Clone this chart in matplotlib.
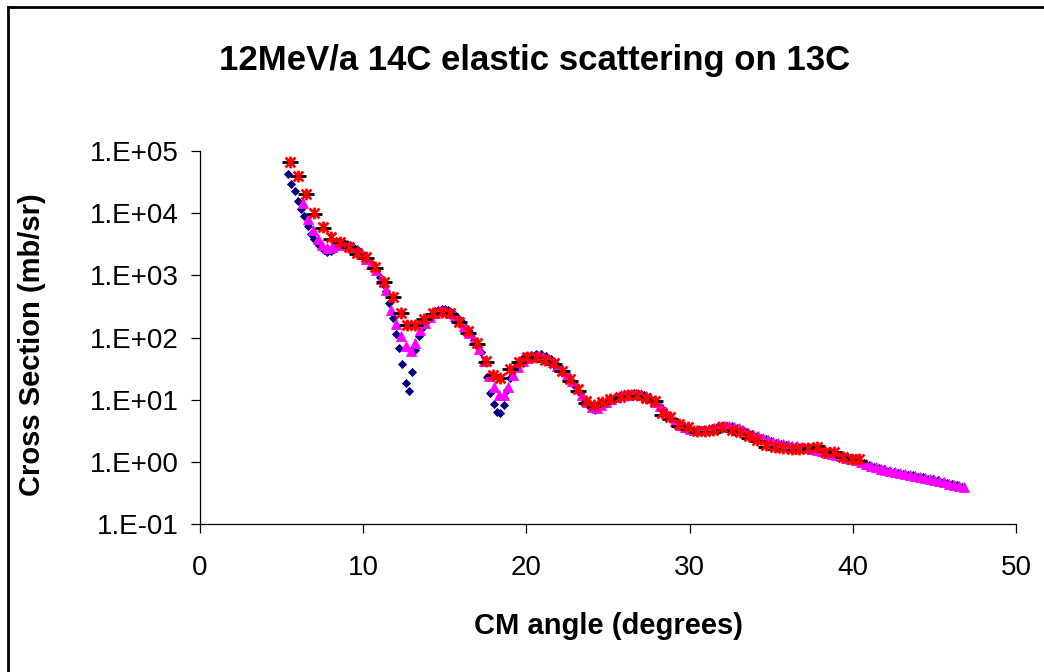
import matplotlib
matplotlib.use("Agg")
import matplotlib.pyplot as plt
from matplotlib.path import Path
from matplotlib.lines import Line2D
from matplotlib.ticker import FixedLocator, NullLocator

plt.rcParams['font.family'] = 'Liberation Sans'

# measured angular distribution (red asterisks) and second data set (black dashes)
data_deg = [5.5, 6.0, 6.5, 7.0, 7.55, 8.05, 8.6, 9.1, 9.6, 10.15, 10.7, 11.25, 11.8,
            12.3, 12.7, 13.15, 13.75, 14.3, 14.8, 15.3, 15.9, 16.45, 17.0, 17.55,
            17.95, 18.4, 19.0, 19.55, 20.05, 20.6, 21.15, 21.7, 22.2, 22.7, 23.15,
            23.65, 24.15, 24.65, 25.15, 25.75, 26.25, 26.75, 27.35, 27.9, 28.3,
            28.8, 29.35, 29.9, 30.45, 30.95, 31.45, 32.0, 32.6, 33.1, 33.65, 34.15,
            34.7, 35.25, 35.75, 36.25, 36.7, 37.25, 37.8, 38.3, 38.85, 39.4, 39.95,
            40.4]
red_xs = [6.7e4, 4.0e4, 2.0e4, 1.0e4, 5.9e3, 4.1e3, 3.5e3, 2.9e3, 2.3e3, 1.95e3,
          1.35e3, 790, 450, 245, 160, 160, 200, 245, 255, 245, 175, 125, 81, 42,
          25, 22.5, 31, 41, 48, 48, 43.5, 38.5, 29, 21.3, 14.7,
          9.5, 8.2, 9.3, 10.1, 11.2, 11.9, 11.9, 10.8, 9.6, 6.0,
          5.2, 4.07, 3.6, 3.17, 3.17, 3.25, 3.6, 3.25, 3.05, 2.61, 2.25,
          1.87, 1.71, 1.65, 1.61, 1.59, 1.65, 1.75, 1.46, 1.46, 1.21, 1.10,
          1.10]
black_xs = [6.7e4, 3.9e4, 2.0e4, 9.8e3, 5.8e3, 3.9e3, 3.4e3, 2.9e3, 2.2e3, 1.9e3,
            1.3e3, 780, 440, 245, 160, 160, 200, 240, 250, 240, 175, 120, 78, 40,
            25, 22, 31, 40, 47, 48, 42, 37, 29, 20, 14,
            8.9, 8.0, 9.0, 10.0, 11.0, 11.5, 11.5, 10.5, 9.6, 5.6,
            4.8, 3.8, 3.4, 3.0, 3.0, 3.0, 3.3, 3.1, 2.8, 2.45, 2.2,
            1.75, 1.6, 1.55, 1.55, 1.55, 1.7, 1.8, 1.5, 1.45, 1.2, 1.08,
            1.05]

# first calculation (navy diamonds)
blue_deg = [5.4, 5.6, 5.8, 6.0, 6.2, 6.4, 6.6, 6.8, 7.0, 7.2, 7.4, 7.6, 7.8, 8.0,
            8.2, 8.4, 8.6, 8.8, 9.0, 9.2, 9.4, 9.6, 9.8, 10.0, 10.2, 10.4, 10.6,
            10.8, 11.0, 11.2, 11.4, 11.6, 11.8, 12.0, 12.2, 12.4, 12.6, 12.8, 13.0,
            13.2, 13.4, 13.6, 13.8, 14.0, 14.2, 14.4, 14.6, 14.8, 15.0, 15.2, 15.4,
            15.6, 15.8, 16.0, 16.2, 16.4, 16.6, 16.8, 17.0, 17.2, 17.4, 17.6, 17.8,
            18.0, 18.2, 18.4, 18.6, 18.8, 19.0, 19.2, 19.4, 19.6, 19.8, 20.0,
            20.3, 20.6, 20.9, 21.2, 21.5, 21.8, 22.1, 22.4, 22.7, 23.0, 23.3, 23.6,
            23.9, 24.2, 24.5, 24.8, 25.1, 25.4, 25.7, 26.0, 26.3, 26.6, 26.9, 27.2,
            27.5, 27.8, 28.1, 28.4, 28.7, 29.0, 29.3, 29.6, 29.9, 30.2, 30.5, 30.8,
            31.1, 31.4, 31.7, 32.0, 32.3, 32.6, 32.9, 33.2, 33.5, 33.8, 34.1, 34.4,
            34.7, 35.0, 35.3, 35.6, 35.9, 36.2, 36.5, 36.8, 37.1, 37.4, 37.7, 38.0,
            38.3, 38.6, 38.9, 39.2, 39.5, 39.8, 40.1, 40.4, 40.7, 41.0, 41.3, 41.6,
            41.9, 42.2, 42.5, 42.8, 43.1, 43.4, 43.7, 44.0, 44.3, 44.6, 44.9, 45.2,
            45.5, 45.8, 46.1, 46.4, 46.7]
blue_xs = [4.2e4, 2.95e4, 2.24e4, 1.58e4, 1.15e4, 8.9e3, 6.3e3, 4.7e3, 3.8e3,
           3.24e3, 2.82e3, 2.51e3, 2.40e3, 2.45e3, 2.69e3, 3.02e3, 3.24e3, 3.31e3,
           3.24e3, 3.09e3, 2.88e3, 2.69e3, 2.40e3, 2.14e3, 1.91e3, 1.66e3, 1.45e3,
           1.23e3, 955, 724, 562, 363, 209, 115, 69, 38, 18.2, 13.8, 28.2,
           63, 105, 141, 178, 214, 240, 263, 282, 288, 288, 275, 257,
           234, 209, 182, 155, 132, 112, 91, 74, 59, 40, 23, 12.6,
           8.5, 6.3, 6.0, 8.3, 14.5, 22.4, 30.2, 36.3, 41.7, 46.8, 50.1,
           52.5, 55, 53.7, 50.1, 44.7, 38, 31.6, 26.3, 21.4, 16.6, 12.6, 9.55,
           7.59, 6.76, 7.59, 8.91, 10.0, 10.7, 11.5, 12.0, 12.3, 12.6, 12.3, 11.7,
           11.0, 9.77, 8.32, 6.92, 5.62, 4.79, 4.17, 3.72, 3.47, 3.31, 3.24, 3.24,
           3.31, 3.47, 3.63, 3.80, 3.80, 3.72, 3.55, 3.31, 3.02, 2.82, 2.63, 2.45,
           2.29, 2.14, 2.04, 1.95, 1.86, 1.82, 1.78, 1.74, 1.70, 1.66, 1.58, 1.51,
           1.45, 1.38, 1.32, 1.26, 1.20, 1.15, 1.10, 1.05, 0.955, 0.891, 0.832, 0.794,
           0.759, 0.724, 0.692, 0.661, 0.646, 0.617, 0.603, 0.575, 0.562, 0.537, 0.525, 0.501,
           0.479, 0.457, 0.437, 0.417, 0.398]

# second calculation (magenta triangles)
mag_deg = [6.3, 6.6, 6.9, 7.2, 7.5, 7.8, 8.1, 8.4, 8.7, 9.0, 9.3, 9.6, 9.9, 10.2,
           10.5, 10.8, 11.1, 11.4, 11.7, 12.0, 12.3, 12.6, 12.9, 13.2, 13.5, 13.8,
           14.1, 14.4, 14.7, 15.0, 15.3, 15.6, 15.9, 16.2, 16.5, 16.8, 17.1, 17.4,
           17.7, 18.0, 18.3, 18.6, 18.9, 19.2, 19.5, 19.8, 20.1, 20.4, 20.7, 21.0,
           21.3, 21.6, 21.9, 22.2, 22.5, 22.8, 23.1, 23.4, 23.7, 24.0, 24.3, 24.6,
           24.9, 25.2, 25.5, 25.8, 26.1, 26.4, 26.7, 27.0, 27.3, 27.6, 27.9, 28.2,
           28.5, 28.8, 29.1, 29.4, 29.7, 30.0, 30.3, 30.6, 30.9, 31.2, 31.5, 31.8,
           32.1, 32.4, 32.7, 33.0, 33.3, 33.6, 33.9, 34.2, 34.5, 34.8, 35.1, 35.4,
           35.7, 36.0, 36.3, 36.6, 36.9, 37.2, 37.5, 37.8, 38.1, 38.4, 38.7, 39.0,
           39.3, 39.6, 39.9, 40.2, 40.5, 40.8, 41.1, 41.4, 41.7, 42.0, 42.3, 42.6,
           42.9, 43.2, 43.5, 43.8, 44.1, 44.4, 44.7, 45.0, 45.3, 45.6, 45.9, 46.2,
           46.5, 46.8]
mag_xs = [1.45e4, 8.1e3, 5.4e3, 3.8e3, 3.09e3, 2.75e3, 2.82e3, 3.09e3, 3.16e3,
          3.09e3, 2.88e3, 2.57e3, 2.24e3, 1.86e3, 1.55e3, 1.23e3, 871, 575, 275,
          166, 105, 72, 60, 81, 132, 174, 214, 245, 263, 269, 251, 224, 191, 151,
          120, 91, 66, 41.7, 24, 15.8, 12.0, 11.7, 15.8, 25.1, 33.9, 41.7, 46.8,
          49, 50.1, 47.9, 44.7, 39.8, 34.7, 29.5, 24.5, 20.0, 15.5, 11.7, 9.12,
          7.59, 7.24, 8.13, 9.33, 10.2, 11.0, 11.7, 12.0, 12.3, 12.3, 12.0, 11.5,
          10.5, 9.33, 7.94, 6.46, 5.37, 4.57, 3.98, 3.63, 3.39, 3.31, 3.24, 3.31,
          3.39, 3.55, 3.72, 3.80, 3.80, 3.63, 3.47, 3.24, 2.95, 2.75, 2.57, 2.40,
          2.24, 2.09, 2.00, 1.91, 1.86, 1.82, 1.78, 1.74, 1.70, 1.62, 1.55, 1.48,
          1.41, 1.35, 1.29, 1.23, 1.17, 1.12, 1.07, 1.00, 0.933, 0.871, 0.813,
          0.776, 0.741, 0.708, 0.676, 0.661, 0.631, 0.617, 0.589, 0.575, 0.550,
          0.537, 0.513, 0.490, 0.468, 0.447, 0.427, 0.407, 0.389]

y_ticks = [0.1, 1, 10, 100, 1000, 10000, 100000]
y_labels = ['1.E-01', '1.E+00', '1.E+01', '1.E+02', '1.E+03', '1.E+04', '1.E+05']
x_ticks = [0, 10, 20, 30, 40, 50]

# Excel-style asterisk: X plus a vertical bar
asterisk = Path([(-1, -1), (1, 1), (-1, 1), (1, -1), (0, -1.2), (0, 1.2)],
                [Path.MOVETO, Path.LINETO] * 3)

fig = plt.figure(figsize=(10.44, 6.72), dpi=100)
ax = fig.add_axes([200 / 1044, 1 - 524 / 672, 816 / 1044, 373 / 672])

ax.plot(blue_deg, blue_xs, ls='none', marker='D', ms=3.6, color='#000080', mew=0.6)
ax.plot(mag_deg, mag_xs, ls='none', marker='^', ms=6.5, color='#ff00ff', mew=0.6)
ax.plot(data_deg, black_xs, ls='none', marker='_', ms=12, mew=2.0, color='black')
ax.plot(data_deg, red_xs, ls='none', marker=asterisk, ms=8.5, mew=2.0, color='red')

ax.set_yscale('log')
ax.set_xlim(0, 50)
ax.set_ylim(0.1, 1e5)
ax.yaxis.set_major_locator(FixedLocator(y_ticks))
ax.yaxis.set_minor_locator(NullLocator())
ax.set_yticklabels(y_labels)
ax.set_xticks(x_ticks)

for s in ['top', 'right']:
    ax.spines[s].set_visible(False)
for s in ['left', 'bottom']:
    ax.spines[s].set_linewidth(0.9)
ax.tick_params(axis='both', direction='out', length=6.5, width=0.9, labelsize=20)
ax.tick_params(axis='y', pad=9)
ax.tick_params(axis='x', pad=16)

fig.text(535 / 1044, 1 - 70 / 672, '12MeV/a 14C elastic scattering on 13C',
         ha='center', va='baseline', fontsize=25, fontweight='bold')
fig.text(609 / 1044, 1 - 634 / 672, 'CM angle (degrees)',
         ha='center', va='baseline', fontsize=21, fontweight='bold')
fig.text(32 / 1044, 1 - 345 / 672, 'Cross Section (mb/sr)', rotation=90,
         ha='center', va='center', fontsize=21, fontweight='bold')

# chart frame (only left and top edges fall inside the picture)
fig.add_artist(Line2D([8 / 1044, 8 / 1044], [0, 1 - 7 / 672], transform=fig.transFigure,
                      color='black', lw=2))
fig.add_artist(Line2D([8 / 1044, 1], [1 - 7 / 672, 1 - 7 / 672], transform=fig.transFigure,
                      color='black', lw=2))

fig.savefig('out.png', dpi=100)
